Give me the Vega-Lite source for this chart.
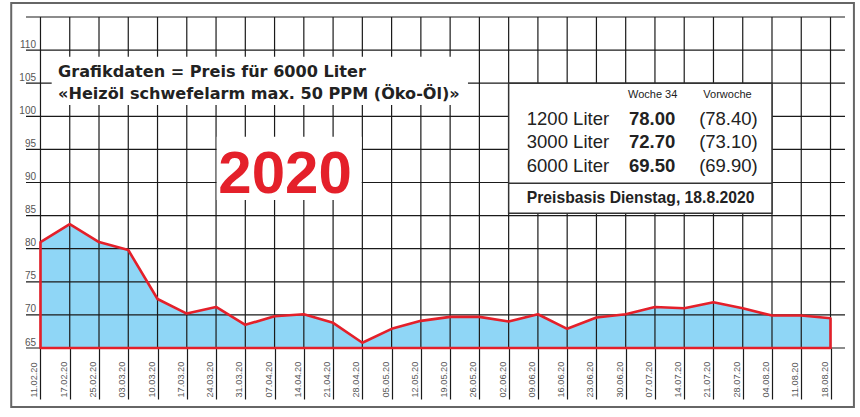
{
  "$schema": "https://vega.github.io/schema/vega-lite/v6.json",
  "width": 819,
  "height": 331,
  "autosize": {"type": "none"},
  "padding": {"left": 26, "top": 17, "right": 15, "bottom": 69},
  "background": "white",
  "config": {"view": {"stroke": null}},
  "datasets": {
    "prices": [
      {"date": "11.02.20", "price": 81.0},
      {"date": "17.02.20", "price": 83.7},
      {"date": "25.02.20", "price": 81.0},
      {"date": "03.03.20", "price": 79.8},
      {"date": "10.03.20", "price": 72.4},
      {"date": "17.03.20", "price": 70.2},
      {"date": "24.03.20", "price": 71.2},
      {"date": "31.03.20", "price": 68.5},
      {"date": "07.04.20", "price": 69.8},
      {"date": "14.04.20", "price": 70.1},
      {"date": "21.04.20", "price": 68.8},
      {"date": "28.04.20", "price": 65.8},
      {"date": "05.05.20", "price": 67.9},
      {"date": "12.05.20", "price": 69.1},
      {"date": "19.05.20", "price": 69.7},
      {"date": "26.05.20", "price": 69.7},
      {"date": "02.06.20", "price": 69.0},
      {"date": "09.06.20", "price": 70.1},
      {"date": "16.06.20", "price": 67.9},
      {"date": "23.06.20", "price": 69.6},
      {"date": "30.06.20", "price": 70.1},
      {"date": "07.07.20", "price": 71.2},
      {"date": "14.07.20", "price": 71.0},
      {"date": "21.07.20", "price": 71.9},
      {"date": "28.07.20", "price": 71.0},
      {"date": "04.08.20", "price": 69.9},
      {"date": "11.08.20", "price": 69.9},
      {"date": "18.08.20", "price": 69.5}
    ],
    "levels": [
      {"level": 65}, {"level": 70}, {"level": 75}, {"level": 80}, {"level": 85},
      {"level": 90}, {"level": 95}, {"level": 100}, {"level": 105}, {"level": 110}, {"level": 115}
    ],
    "blanks": [
      {"x1": 0.383, "x2": 14.61, "y1": 109.0, "y2": 101.7},
      {"x1": 6.022, "x2": 10.978, "y1": 96.92, "y2": 87.36}
    ],
    "infobox": [
      {"x1": 16.0, "x2": 25.0, "y1": 105.0, "y2": 85.35, "divider": 89.88}
    ],
    "frame": [
      {"x1": -1.0, "x2": 27.8, "y1": 117.1, "y2": 56.1}
    ],
    "title": [
      {"t": "Grafikdaten = Preis für 6000 Liter", "pos": 0.6, "val": 105.91},
      {"t": "«Heizöl schwefelarm max. 50 PPM (Öko-Öl)»", "pos": 0.6, "val": 102.64}
    ],
    "year": [
      {"t": "2020", "pos": 8.357, "val": 88.41}
    ],
    "head": [
      {"t": "Woche 34", "pos": 20.92, "val": 102.72},
      {"t": "Vorwoche", "pos": 23.48, "val": 102.72}
    ],
    "rowlabel": [
      {"t": "1200 Liter", "pos": 16.62, "val": 98.72},
      {"t": "3000 Liter", "pos": 16.62, "val": 95.15},
      {"t": "6000 Liter", "pos": 16.62, "val": 91.56}
    ],
    "cur": [
      {"t": "78.00", "pos": 20.11, "val": 98.72},
      {"t": "72.70", "pos": 20.11, "val": 95.15},
      {"t": "69.50", "pos": 20.11, "val": 91.56}
    ],
    "prev": [
      {"t": "(78.40)", "pos": 22.51, "val": 98.72},
      {"t": "(73.10)", "pos": 22.51, "val": 95.15},
      {"t": "(69.90)", "pos": 22.51, "val": 91.56}
    ],
    "basis": [
      {"t": "Preisbasis Dienstag, 18.8.2020", "pos": 16.62, "val": 86.86}
    ]
  },
  "layer": [
    {
      "layer": [
        {
          "data": {"name": "prices"},
          "mark": {"type": "area", "fill": "#8fd6f6", "opacity": 1},
          "encoding": {
            "x": {
              "field": "date", "type": "ordinal", "sort": null,
              "scale": {"type": "point", "padding": 0.495},
              "axis": {
                "orient": "bottom", "title": null, "grid": false, "domain": false,
                "ticks": true, "tickSize": 51, "tickColor": "#1a1a1a", "tickWidth": 1.2,
                "labelAngle": 270, "labelAlign": "left", "labelBaseline": "alphabetic",
                "labelPadding": -2, "labelOffset": -3.5, "labelOverlap": false, "labelBound": false,
                "labelFont": "Liberation Sans", "labelFontSize": 9.2, "labelColor": "#555555"
              }
            },
            "y": {
              "field": "price", "type": "quantitative",
              "scale": {"domain": [65, 115], "nice": false, "zero": false},
              "axis": null
            },
            "y2": {"datum": 65}
          }
        },
        {
          "data": {"name": "prices"},
          "mark": {"type": "rule", "color": "#1a1a1a", "strokeWidth": 1.2},
          "encoding": {
            "x": {"field": "date", "type": "ordinal", "sort": null}
          }
        },
        {
          "data": {"name": "levels"},
          "mark": {"type": "rule", "color": "#1a1a1a", "strokeWidth": 1.2},
          "encoding": {
            "y": {"field": "level", "type": "quantitative", "axis": null}
          }
        },
        {
          "data": {"name": "prices"},
          "mark": {"type": "area", "fillOpacity": 0, "stroke": "#e4202a", "strokeWidth": 2.6, "strokeJoin": "round"},
          "encoding": {
            "x": {"field": "date", "type": "ordinal", "sort": null},
            "y": {"field": "price", "type": "quantitative", "axis": null},
            "y2": {"datum": 65}
          }
        }
      ]
    },
    {
      "encoding": {},
      "layer": [
        {
          "data": {"name": "blanks"},
          "mark": {"type": "rect", "fill": "white"},
          "encoding": {
            "x": {"field": "x1", "type": "quantitative", "scale": {"domain": [-0.495, 27.495], "nice": false, "zero": false}, "axis": null},
            "x2": {"field": "x2"},
            "y": {"field": "y1", "type": "quantitative", "axis": null},
            "y2": {"field": "y2"}
          }
        },
        {
          "data": {"name": "levels"},
          "transform": [{"filter": "datum.level < 115"}],
          "mark": {"type": "text", "align": "right", "baseline": "alphabetic", "dy": -2.5, "font": "Liberation Sans", "fontSize": 10, "color": "#555555"},
          "encoding": {
            "x": {"datum": -0.153, "type": "quantitative"},
            "y": {"field": "level", "type": "quantitative", "axis": null},
            "text": {"field": "level", "type": "quantitative"}
          }
        },
        {
          "data": {"name": "infobox"},
          "mark": {"type": "rect", "fill": "white", "stroke": "#333333", "strokeWidth": 1.5},
          "encoding": {
            "x": {"field": "x1", "type": "quantitative"},
            "x2": {"field": "x2"},
            "y": {"field": "y1", "type": "quantitative", "axis": null},
            "y2": {"field": "y2"}
          }
        },
        {
          "data": {"name": "infobox"},
          "mark": {"type": "rule", "color": "#333333", "strokeWidth": 1.5},
          "encoding": {
            "x": {"field": "x1", "type": "quantitative"},
            "x2": {"field": "x2"},
            "y": {"field": "divider", "type": "quantitative", "axis": null}
          }
        },
        {
          "data": {"name": "title"},
          "mark": {"type": "text", "align": "left", "baseline": "alphabetic", "font": "DejaVu Sans", "fontWeight": "bold", "fontSize": 16.1, "color": "#222222"},
          "encoding": {
            "x": {"field": "pos", "type": "quantitative"},
            "y": {"field": "val", "type": "quantitative", "axis": null},
            "text": {"field": "t"}
          }
        },
        {
          "data": {"name": "year"},
          "mark": {"type": "text", "align": "center", "baseline": "alphabetic", "font": "Liberation Sans", "fontWeight": "bold", "fontSize": 60, "color": "#e4202a"},
          "encoding": {
            "x": {"field": "pos", "type": "quantitative"},
            "y": {"field": "val", "type": "quantitative", "axis": null},
            "text": {"field": "t"}
          }
        },
        {
          "data": {"name": "head"},
          "mark": {"type": "text", "align": "center", "baseline": "alphabetic", "font": "Liberation Sans", "fontSize": 11, "color": "#222222"},
          "encoding": {
            "x": {"field": "pos", "type": "quantitative"},
            "y": {"field": "val", "type": "quantitative", "axis": null},
            "text": {"field": "t"}
          }
        },
        {
          "data": {"name": "rowlabel"},
          "mark": {"type": "text", "align": "left", "baseline": "alphabetic", "font": "Liberation Sans", "fontSize": 18.5, "color": "#222222"},
          "encoding": {
            "x": {"field": "pos", "type": "quantitative"},
            "y": {"field": "val", "type": "quantitative", "axis": null},
            "text": {"field": "t"}
          }
        },
        {
          "data": {"name": "cur"},
          "mark": {"type": "text", "align": "left", "baseline": "alphabetic", "font": "Liberation Sans", "fontWeight": "bold", "fontSize": 18.5, "color": "#222222"},
          "encoding": {
            "x": {"field": "pos", "type": "quantitative"},
            "y": {"field": "val", "type": "quantitative", "axis": null},
            "text": {"field": "t"}
          }
        },
        {
          "data": {"name": "prev"},
          "mark": {"type": "text", "align": "left", "baseline": "alphabetic", "font": "Liberation Sans", "fontSize": 18.5, "color": "#222222"},
          "encoding": {
            "x": {"field": "pos", "type": "quantitative"},
            "y": {"field": "val", "type": "quantitative", "axis": null},
            "text": {"field": "t"}
          }
        },
        {
          "data": {"name": "basis"},
          "mark": {"type": "text", "align": "left", "baseline": "alphabetic", "font": "Liberation Sans", "fontWeight": "bold", "fontSize": 15.7, "color": "#222222"},
          "encoding": {
            "x": {"field": "pos", "type": "quantitative"},
            "y": {"field": "val", "type": "quantitative", "axis": null},
            "text": {"field": "t"}
          }
        },
        {
          "data": {"name": "frame"},
          "mark": {"type": "rect", "fillOpacity": 0, "stroke": "#666666", "strokeWidth": 2},
          "encoding": {
            "x": {"field": "x1", "type": "quantitative"},
            "x2": {"field": "x2"},
            "y": {"field": "y1", "type": "quantitative", "axis": null},
            "y2": {"field": "y2"}
          }
        }
      ]
    }
  ],
  "resolve": {"scale": {"x": "independent"}}
}
